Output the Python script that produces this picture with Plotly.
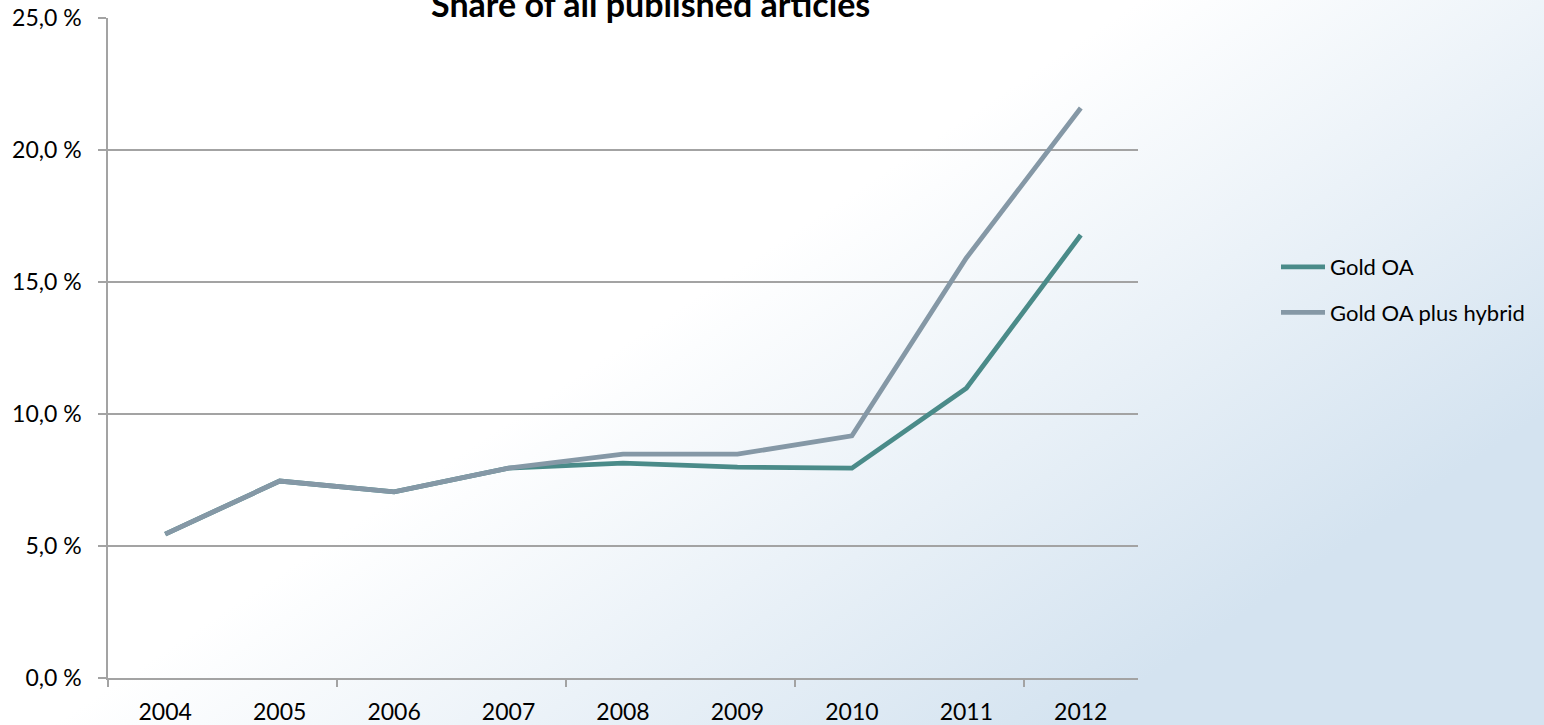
import base64
import plotly.graph_objects as go

# ---- data ----
years = ["2004", "2005", "2006", "2007", "2008", "2009", "2010", "2011", "2012"]
gold_oa = [5.45, 7.46, 7.05, 7.95, 8.14, 7.99, 7.95, 10.98, 16.78]
gold_oa_hybrid = [5.45, 7.46, 7.05, 7.95, 8.48, 8.48, 9.17, 15.91, 21.59]
y_tickvals = [0, 5, 10, 15, 20, 25]
y_ticktext = ["0,0 %", "5,0 %", "10,0 %", "15,0 %", "20,0 %", "25,0 %"]
title_text = "Share of all published articles"

W, H = 1544, 725
L, R, T, B = 108, 406, 18, 47
pw, ph = W - L - R, H - T - B

FONT = "Lato"
GRID = "#a3a3a3"

xs = list(range(len(years)))

fig = go.Figure()
fig.add_trace(go.Scatter(x=xs, y=gold_oa, mode="lines", name="Gold OA",
                         line=dict(color="#4a8b89", width=4.8), legendgroup="a"))
fig.add_trace(go.Scatter(x=xs, y=gold_oa_hybrid, mode="lines", name="Gold OA plus hybrid",
                         line=dict(color="#8598a6", width=4.8), legendgroup="b"))
# helper trace for the second (tick-mark) x axis
fig.add_trace(go.Scatter(x=[xs[0]], y=[gold_oa[0]], mode="lines", xaxis="x2",
                         showlegend=False, hoverinfo="skip", opacity=0))

# gradient background as svg
svg = (f'<svg xmlns="http://www.w3.org/2000/svg" width="{W}" height="{H}" '
       f'viewBox="0 0 {W} {H}" preserveAspectRatio="none">'
       '<defs><linearGradient id="g" gradientUnits="userSpaceOnUse" '
       'x1="351" y1="526" x2="666" y2="999">'
       '<stop offset="0" stop-color="#ffffff"/>'
       '<stop offset="1" stop-color="#d4e3f0"/>'
       '</linearGradient></defs>'
       f'<rect width="{W}" height="{H}" fill="url(#g)"/></svg>')
src = "data:image/svg+xml;base64," + base64.b64encode(svg.encode()).decode()

fig.update_layout(
    width=W, height=H,
    margin=dict(l=L, r=R, t=T, b=B, pad=0, autoexpand=False),
    paper_bgcolor="white",
    plot_bgcolor="rgba(0,0,0,0)",
    font=dict(family=FONT, size=23, color="black"),
    images=[dict(source=src, xref="paper", yref="paper",
                 x=-L / pw, y=1 + T / ph, sizex=W / pw, sizey=H / ph,
                 xanchor="left", yanchor="top", sizing="stretch", layer="below")],
    xaxis=dict(range=[-0.5, len(years) - 0.5], tickvals=xs, ticktext=years,
               ticks="", showgrid=False, zeroline=False, automargin=False,
               showline=True, linecolor=GRID, linewidth=1.5,
               ticklabelstandoff=13, tickfont=dict(size=23)),
    xaxis2=dict(overlaying="x", range=[-0.5, len(years) - 0.5],
                tickvals=[-0.5, 1.5, 3.5, 5.5, 7.5], ticks="outside", ticklen=8,
                tickcolor=GRID, tickwidth=1.5, showticklabels=False, automargin=False,
                showgrid=False, zeroline=False, showline=False, side="bottom"),
    yaxis=dict(range=[0, 25], tickvals=y_tickvals, ticktext=y_ticktext,
               ticks="outside", ticklen=8, tickcolor=GRID, tickwidth=1.5,
               showgrid=True, gridcolor=GRID, gridwidth=1.5, zeroline=False,
               showline=True, linecolor=GRID, linewidth=1.5, automargin=False,
               ticklabelstandoff=12, tickfont=dict(size=23)),
    legend=dict(x=(1276 - L) / pw, y=(678 - 246) / ph, xanchor="left", yanchor="top",
                bgcolor="rgba(0,0,0,0)", font=dict(size=22, family=FONT),
                tracegroupgap=14, itemwidth=44),
    annotations=[dict(text="<b>" + title_text + "</b>", x=(650 - L) / pw, y=(678 - 26) / ph,
                      xref="paper", yref="paper", xanchor="center", yanchor="bottom",
                      showarrow=False, font=dict(family=FONT, size=34, color="black"))],
    showlegend=True,
)

fig.write_html("out.html", config={"displayModeBar": False},
               post_script="document.body.style.margin='0';"
                           "document.body.style.overflow='hidden';")
